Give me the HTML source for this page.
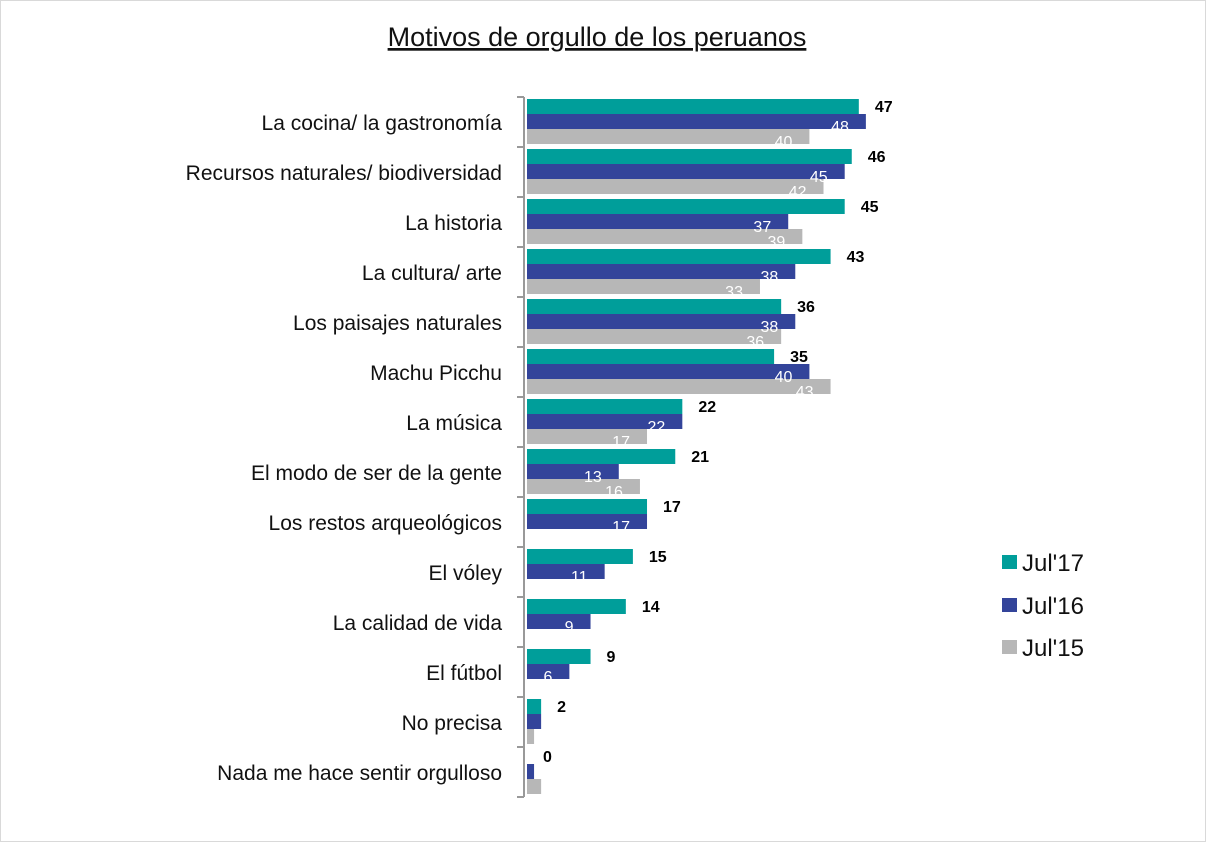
<!DOCTYPE html>
<html><head><meta charset="utf-8"><style>
body{margin:0;background:#fff}
svg{display:block}
</style></head><body>
<svg id="c" width="1206" height="842" xmlns="http://www.w3.org/2000/svg" font-family="Liberation Sans, sans-serif">
<rect x="0.5" y="0.5" width="1205" height="841" fill="#fff" stroke="#d9d9d9"/>
<text x="597" y="46" font-size="27" text-anchor="middle" fill="#111" text-decoration="underline">Motivos de orgullo de los peruanos</text>
<g id="plot"></g>
<g>
<rect x="1002" y="555" width="15" height="14" fill="#009e9a"/>
<text x="1022" y="571" font-size="24" fill="#111">Jul'17</text>
<rect x="1002" y="598" width="15" height="14" fill="#33449a"/>
<text x="1022" y="614" font-size="24" fill="#111">Jul'16</text>
<rect x="1002" y="640" width="15" height="14" fill="#b7b7b7"/>
<text x="1022" y="656" font-size="24" fill="#111">Jul'15</text>
</g>
</svg>
<script>
const categories=["La cocina/ la gastronomía","Recursos naturales/ biodiversidad","La historia","La cultura/ arte","Los paisajes naturales","Machu Picchu","La música","El modo de ser de la gente","Los restos arqueológicos","El vóley","La calidad de vida","El fútbol","No precisa","Nada me hace sentir orgulloso"];
const jul17=[47,46,45,43,36,35,22,21,17,15,14,9,2,0];
const jul16=[48,45,37,38,38,40,22,13,17,11,9,6,2,1];
const jul15=[40,42,39,33,36,43,17,16,null,null,null,null,1,2];
const jul16Labels=[48,45,37,38,38,40,22,13,17,11,9,6,null,null];
const jul15Labels=[40,42,39,33,36,43,17,16,null,null,null,null,null,null];
const NS="http://www.w3.org/2000/svg";
const plotG=document.getElementById('plot');
const x0=527, k=7.06, yTop=97, band=50;
const xs=v=>x0+v*k;
function mk(t,a){const e=document.createElementNS(NS,t);for(const n in a)e.setAttribute(n,a[n]);plotG.appendChild(e);return e;}
const ax=mk('line',{x1:524,x2:524,y1:yTop,y2:yTop+band*categories.length,stroke:'#999','stroke-width':2});


for(let i=0;i<=categories.length;i++){
 const t=mk('line',{x1:517,x2:524,y1:yTop+i*band,y2:yTop+i*band,stroke:'#999','stroke-width':2});
 
 
}
const series=[[jul17,'#009e9a','jul17'],[jul16,'#33449a','jul16'],[jul15,'#b7b7b7','jul15']];
categories.forEach((c,i)=>{
 const yb=yTop+i*band;
 const l=mk('text',{x:502,y:yb+33,'font-size':21,'text-anchor':'end',fill:'#111'});
 l.textContent=c;
 
 
 series.forEach((s,j)=>{
  const v=s[0][i]; if(v==null)return;
  const y=yb+2+j*15;
  const r=mk('rect',{x:x0,y:y,width:Math.max(0,xs(v)-x0),height:15,fill:s[1]});
  
  
 });
 const t=mk('text',{x:xs(jul17[i])+16,y:yb+15,'font-size':16,'font-weight':'bold',fill:'#000'});
 t.textContent=jul17[i];
 
 
 [[jul16Labels,1,jul16],[jul15Labels,2,jul15]].forEach(([arr,j,vals])=>{
  const v=arr[i]; if(v==null)return;
  const w=mk('text',{x:xs(vals[i])-17,y:yb+2+j*15+18,'font-size':16,'text-anchor':'end',fill:'#fff'});
  w.textContent=v;
  
  
 });
});
</script>
</body></html>
